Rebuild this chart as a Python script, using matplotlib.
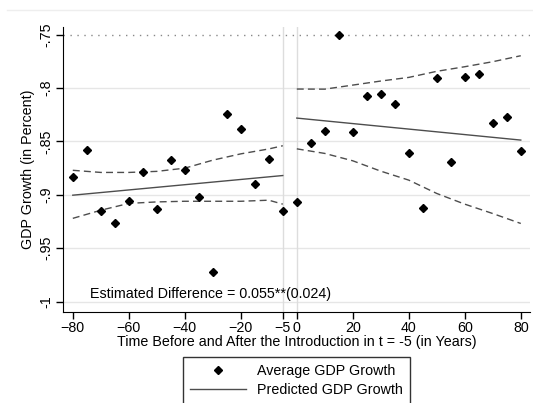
import matplotlib
matplotlib.use("Agg")
from matplotlib import pyplot as plt
from matplotlib.lines import Line2D

plt.rcParams['font.family'] = ['Liberation Sans', 'DejaVu Sans']

# average GDP growth, every 5 years
years = [-80, -75, -70, -65, -60, -55, -50, -45, -40, -35, -30, -25, -20, -15, -10, -5,
         0, 5, 10, 15, 20, 25, 30, 35, 40, 45, 50, 55, 60, 65, 70, 75, 80]
growth = [-0.883, -0.858, -0.915, -0.926, -0.906, -0.879, -0.913, -0.867, -0.877, -0.902,
          -0.972, -0.824, -0.838, -0.890, -0.866, -0.915,
          -0.907, -0.851, -0.840, -0.750, -0.841, -0.807, -0.806, -0.815, -0.861, -0.912,
          -0.791, -0.869, -0.790, -0.787, -0.833, -0.827, -0.859]

# predicted growth (linear fits before / after)
fit_pre_x = [-80, -5]
fit_pre_y = [-0.9003, -0.8819]
fit_post_x = [0, 80]
fit_post_y = [-0.8281, -0.8487]

# confidence bands
ci_pre_x = [-80, -70, -60, -50, -40, -30, -20, -10, -5]
ci_pre_hi = [-0.877, -0.879, -0.879, -0.878, -0.875, -0.8675, -0.8616, -0.857, -0.854]
ci_pre_lo = [-0.922, -0.9144, -0.908, -0.9066, -0.906, -0.906, -0.906, -0.905, -0.9087]
ci_post_x = [0, 10, 20, 30, 40, 50, 60, 70, 80]
ci_post_hi = [-0.8009, -0.801, -0.7972, -0.7934, -0.790, -0.7843, -0.780, -0.7753, -0.7697]
ci_post_lo = [-0.8569, -0.8612, -0.8681, -0.8778, -0.8862, -0.8987, -0.9087, -0.9175, -0.9268]

xticks = [-80, -60, -40, -20, -5, 0, 20, 40, 60, 80]
yticks = [-1, -0.95, -0.9, -0.85, -0.8, -0.75]
ytick_labels = ['-1', '-.95', '-.9', '-.85', '-.8', '-.75']

fig = plt.figure(figsize=(5.33, 4.03), dpi=100)
ax = fig.add_axes([0.1182, 0.2266, 0.8762, 0.7064])

fs = 10.3
for y in yticks[:-1]:
    ax.axhline(y, color='#e6e6e6', lw=1, zorder=0)
ax.axhline(-0.75, color='#888888', lw=1, ls=(0, (1, 4)), zorder=0)
ax.axvline(-5, color='#dddddd', lw=1, zorder=0)
ax.axvline(0, color='#dddddd', lw=1, zorder=0)

ax.plot(fit_pre_x, fit_pre_y, color='#4d4d4d', lw=1)
ax.plot(fit_post_x, fit_post_y, color='#4d4d4d', lw=1)
for hi, lo, xx in [(ci_pre_hi, ci_pre_lo, ci_pre_x), (ci_post_hi, ci_post_lo, ci_post_x)]:
    ax.plot(xx, hi, color='#4d4d4d', lw=1, ls=(0, (5, 3)))
    ax.plot(xx, lo, color='#4d4d4d', lw=1, ls=(0, (5, 3)))
ax.plot(years, growth, 'D', color='black', ms=4.0, zorder=5)

ax.text(-73.8, -0.9931, 'Estimated Difference = 0.055**(0.024)', fontsize=fs, va='center', ha='left')

ax.set_xlim(-83.5, 83.3)
ax.set_ylim(-1.0094, -0.7428)
ax.set_xticks(xticks)
ax.set_yticks(yticks)
ax.set_yticklabels(ytick_labels, rotation=90, va='center')
ax.tick_params(labelsize=fs, length=5, width=1, pad=2)
ax.spines['top'].set_visible(False)
ax.spines['right'].set_visible(False)
ax.set_xlabel('Time Before and After the Introduction in t = -5 (in Years)', fontsize=fs, labelpad=0)
ax.set_ylabel('GDP Growth (in Percent)', fontsize=fs, labelpad=3)

fig.add_artist(Line2D([7 / 533, 1], [1 - 10 / 403, 1 - 10 / 403], color='#eeeeee', lw=1))

handles = [Line2D([], [], marker='D', color='black', ls='none', ms=4.0),
           Line2D([], [], color='#4d4d4d', lw=1)]
leg = fig.legend(handles, ['Average GDP Growth', 'Predicted GDP Growth'],
                 loc='upper center', bbox_to_anchor=(0.5563, 0.1149), fontsize=fs,
                 frameon=True, fancybox=False, handlelength=3.9, handletextpad=0.75,
                 borderpad=0.5, labelspacing=0.35, borderaxespad=0)
leg.get_frame().set_edgecolor('black')
leg.get_frame().set_linewidth(1)

fig.savefig('out.png', dpi=100)
